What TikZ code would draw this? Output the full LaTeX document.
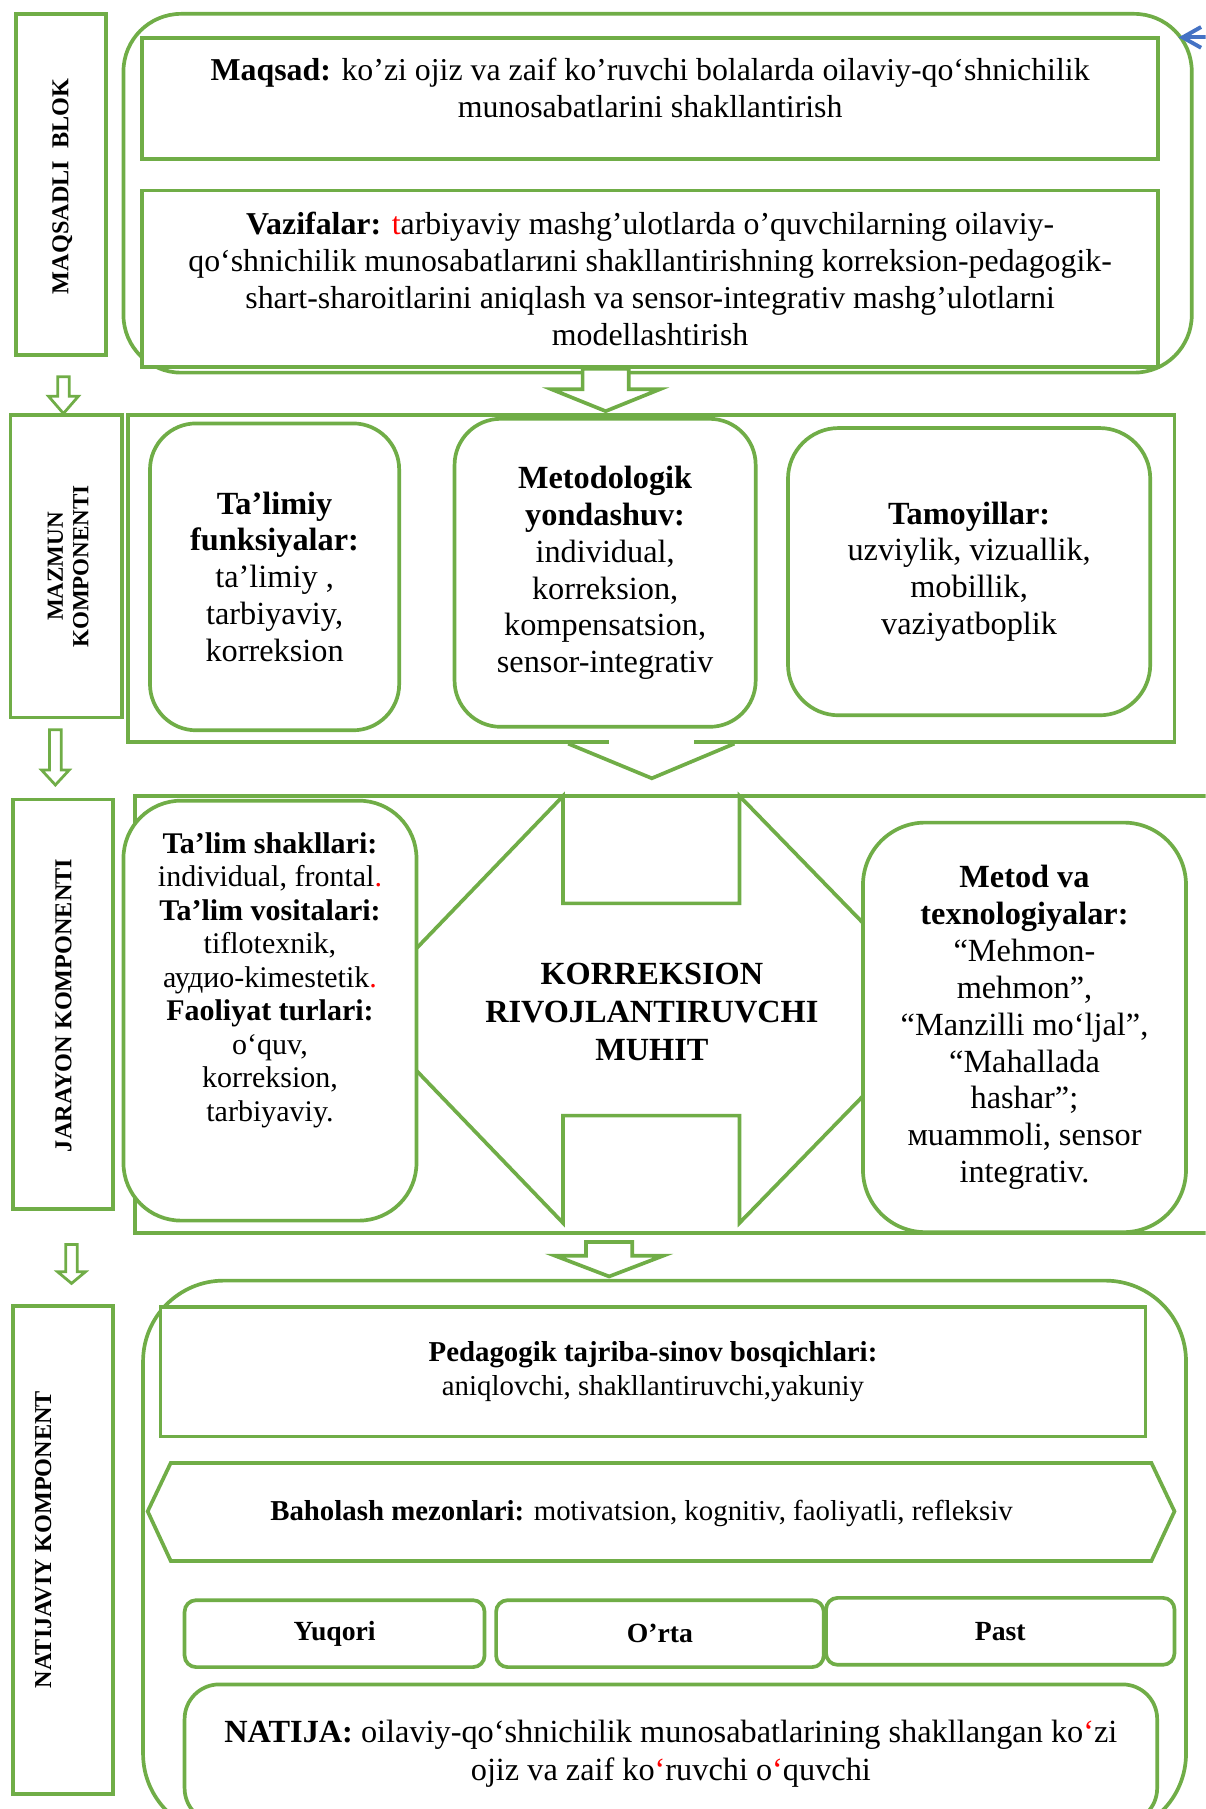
\documentclass[tikz,border=0pt]{standalone}
\usepackage{fontspec}
\setmainfont{Liberation Serif}
\usepackage[usenames,dvipsnames]{xcolor}
\usepackage{tikz}
\usetikzlibrary{arrows.meta, calc}

\definecolor{leafgreen}{RGB}{112,173,71}
\definecolor{pointblue}{RGB}{68,114,196}

% hollow block arrow: [style]{tail}{tip}{half shaft}{half head}{head length}
\newcommand{\hollowarrow}[6][hollow]{%
  \draw[#1] ($(#3 |- #2)+(-#4,0)$) -- ($(#3)+(-#4,-#6)$) -- ($(#3)+(-#5,-#6)$)
    -- (#3) -- ($(#3)+(#5,-#6)$) -- ($(#3)+(#4,-#6)$) -- ($(#3 |- #2)+(#4,0)$)
    -- cycle;}

\begin{document}
\begin{tikzpicture}[x=0.5pt, y=-0.5pt,
  side/.style={rectangle, draw=leafgreen, line width=1.6pt, fill=white,
    inner sep=0pt},
  %
  sidetext/.style={rotate=90, align=center, inner sep=0pt,
    font=\fontsize{10.5}{11}\selectfont\bfseries},
  %
  panel/.style={rectangle, draw=leafgreen, line width=1.6pt, fill=white,
    inner sep=0pt, align=center, font=\fontsize{14}{16}\selectfont},
  %
  soft/.style={panel, rounded corners=#1},
  soft/.default=20pt,
  %
  txt/.style={align=center, inner sep=0pt, font=\fontsize{14}{16}\selectfont},
  %
  hollow/.style={draw=leafgreen, line width=1.6pt, fill=white},
  %
  slimhollow/.style={hollow, line width=1.2pt},
  %
  pointer/.style={draw=pointblue, line width=1.7pt,
    -{Straight Barb[length=8pt, width=9pt]}}
  ]

  \useasboundingbox (0,0) rectangle (1045,1568);
  \clip (0,0) rectangle (1045,1568);

  \begin{scope}
    % left column
    \node[side, minimum width=39pt, minimum height=148pt] (maqsadli) at (53,160) {};
    \node[sidetext] (maqsadli-txt) at (54,161.5) {MAQSADLI\ \ BLOK};
    \node[side, minimum width=48.5pt, minimum height=131pt] (mazmun) at (57.5,491) {};
    \node[sidetext, font=\fontsize{10}{11}\selectfont\bfseries] (mazmun-txt)
      at (59,491) {MAZMUN\\KOMPONENTI};
    \node[side, minimum width=43.5pt, minimum height=177.5pt] (jarayon) at (54.5,870.5) {};
    \node[sidetext] (jarayon-txt) at (55,871.5) {JARAYON KOMPONENTI};
    \node[side, minimum width=43.5pt, minimum height=211.5pt] (natijaviy) at (54.5,1343.5) {};
    \node[sidetext] (natijaviy-txt) at (37.5,1334.5) {NATIJAVIY KOMPONENT};
  \end{scope}

  \begin{scope}
    % maqsadli blok
    \node[soft=25pt, minimum width=463pt, minimum height=155.5pt] (goal) at (570,167.5) {};
    \node[panel, minimum width=440.5pt, minimum height=52.5pt] (maqsad) at (563.5,85.5) {};
    \node[txt, font=\fontsize{13.8}{16}\selectfont] (maqsad-txt) at (563.5,76)
      {\textbf{Maqsad:} ko’zi ojiz va zaif ko’ruvchi bolalarda oilaviy-qo‘shnichilik\\
       munosabatlarini shakllantirish};
    \node[panel, minimum width=440.5pt, minimum height=76.5pt,
      font=\fontsize{13.8}{16}\selectfont] (vazifa) at (563.5,241.5)
      {\textbf{Vazifalar:} \textcolor{red}{t}arbiyaviy mashg’ulotlarda o’quvchilarning oilaviy-\\
       qo‘shnichilik munosabatlarиni shakllantirishning korreksion-pedagogik-\\
       shart-sharoitlarini aniqlash va sensor-integrativ mashg’ulotlarni\\
       modellashtirish};
    \coordinate (bluetail) at ($(goal.north east)+(30,22)$);
    \coordinate (bluetip) at ($(goal.north east)+(-13,22)$);
    \draw[pointer] (bluetail) -- (bluetip);
  \end{scope}

  \begin{scope}
    % mazmun
    \node[panel, minimum width=453.5pt, minimum height=141.5pt] (mazmunframe)
      at (564.5,501.5) {};
    \node[soft, minimum width=108pt, minimum height=133pt] (funks) at (238,500)
      {\textbf{Ta’limiy}\\ \textbf{funksiyalar:}\\ ta’limiy ,\\ tarbiyaviy,\\ korreksion};
    \node[soft, minimum width=130.5pt, minimum height=133.5pt] (yondash) at (524.5,496.5)
      {\textbf{Metodologik}\\ \textbf{yondashuv:}\\ individual,\\ korreksion,\\
       kompensatsion,\\ sensor-integrativ};
    \node[soft=22pt, minimum width=157pt, minimum height=124.5pt] (tamoyil) at (840,495.5)
      {\textbf{Tamoyillar:}\\ uzviylik, vizuallik,\\ mobillik,\\ vaziyatboplik};
    \coordinate (vtip) at ($(mazmunframe.south)+(0.5,30)$);
    \fill[white] ($(mazmunframe.south)+(-37,-4)$) rectangle ($(mazmunframe.south)+(37,4)$);
    \draw[hollow, fill=none] ($(mazmunframe.south)+(-72,0)$) -- (vtip)
      -- ($(mazmunframe.south)+(72,0)$);
  \end{scope}

  \begin{scope}
    % jarayon
    \node[panel, minimum width=479pt, minimum height=189.5pt] (jarayonframe)
      at (596,879.5) {};
    \draw[hollow, fill=none] (310,875) -- (488,690) -- (488,783) -- (641,783)
      -- (641,690) -- (821,875) -- (641,1060) -- (641,967) -- (488,967)
      -- (488,1060) -- cycle;
    \node[txt, font=\fontsize{14}{16.5}\selectfont\bfseries] (muhit) at (565,877)
      {KORREKSION\\ RIVOJLANTIRUVCHI\\ MUHIT};
    \node[soft=25pt, minimum width=127pt, minimum height=182pt] (shakl) at (234,876) {};
    \node[txt, font=\fontsize{13}{14.5}\selectfont] (shakl-txt) at (234,849.5)
      {\textbf{Ta’lim shakllari:}\\ individual, frontal\textcolor{red}{.}\\
       \textbf{Ta’lim vositalari:}\\ tiflotexnik,\\ аудио-kimestetik\textcolor{red}{.}\\
       \textbf{Faoliyat turlari:}\\ o‘quv,\\ korreksion,\\ tarbiyaviy.};
    \node[soft=27pt, minimum width=140pt, minimum height=177.5pt] (texno) at (888,890.5)
      {\textbf{Metod va}\\ \textbf{texnologiyalar:}\\ “Mehmon-\\ mehmon”,\\
       “Manzilli mo‘ljal”,\\ “Mahallada\\ hashar”;\\ мuammoli, sensor\\ integrativ.};
  \end{scope}

  \begin{scope}
    % natija
    \node[soft=35pt, minimum width=452pt, minimum height=240pt] (natijaframe)
      at (576,1350) {};
    \node[panel, minimum width=427pt, minimum height=56pt,
      font=\fontsize{12.5}{15}\selectfont] (pedag) at (566,1189)
      {\textbf{Pedagogik tajriba-sinov bosqichlari:}\\ aniqlovchi, shakllantiruvchi,yakuniy};
    \draw[hollow] (128,1310) -- (148,1268) -- (998,1268) -- (1018,1310)
      -- (998,1353) -- (148,1353) -- cycle;
    \node[txt, font=\fontsize{12.5}{15}\selectfont] (baholash) at (556,1312)
      {\textbf{Baholash mezonlari:} motivatsion, kognitiv, faoliyatli, refleksiv};
    \node[soft=5pt, minimum width=130pt, minimum height=29pt,
      font=\fontsize{12}{14}\selectfont\bfseries] (yuqori) at (290,1416) {Yuqori};
    \node[soft=5pt, minimum width=142pt, minimum height=29pt,
      font=\fontsize{12}{14}\selectfont\bfseries] (orta) at (572,1416) {O’rta};
    \node[soft=5pt, minimum width=151pt, minimum height=29pt,
      font=\fontsize{12}{14}\selectfont\bfseries] (past) at (867,1414) {Past};
    \node[soft=15pt, minimum width=421.5pt, minimum height=60pt,
      font=\fontsize{14}{16.5}\selectfont] (natija) at (581.5,1520)
      {\textbf{NATIJA:} oilaviy-qo‘shnichilik munosabatlarining shakllangan
       ko\textcolor{red}{‘}zi\\ ojiz va zaif ko\textcolor{red}{‘}ruvchi
       o\textcolor{red}{‘}quvchi};
  \end{scope}

  \begin{scope}
    % block arrows
    \coordinate (a1tip) at ($(mazmunframe.north)+(-39.5,-2)$);
    \hollowarrow{vazifa.south}{a1tip}{20}{47}{19}
    \coordinate (a3tail) at ($(jarayonframe.south)+(0,6)$);
    \coordinate (a3tip) at ($(natijaframe.north)+(-48,-2)$);
    \hollowarrow{a3tail}{a3tip}{20}{47}{18}
    \coordinate (s1tail) at ($(maqsadli.south)+(0,17)$);
    \coordinate (s1tip) at ($(mazmun.north)+(-2.5,0)$);
    \hollowarrow[slimhollow]{s1tail}{s1tip}{5}{13}{15}
    \coordinate (s2tail) at ($(mazmun.south)+(0,9)$);
    \coordinate (s2tip) at ($(jarayon.north)+(-6.5,-11)$);
    \hollowarrow[slimhollow]{s2tail}{s2tip}{5}{12}{13}
    \coordinate (s3tail) at ($(jarayon.south)+(0,29)$);
    \coordinate (s3tip) at ($(natijaviy.north)+(7.5,-18)$);
    \hollowarrow[slimhollow]{s3tail}{s3tip}{5}{12}{10}
  \end{scope}

\end{tikzpicture}
\end{document}
